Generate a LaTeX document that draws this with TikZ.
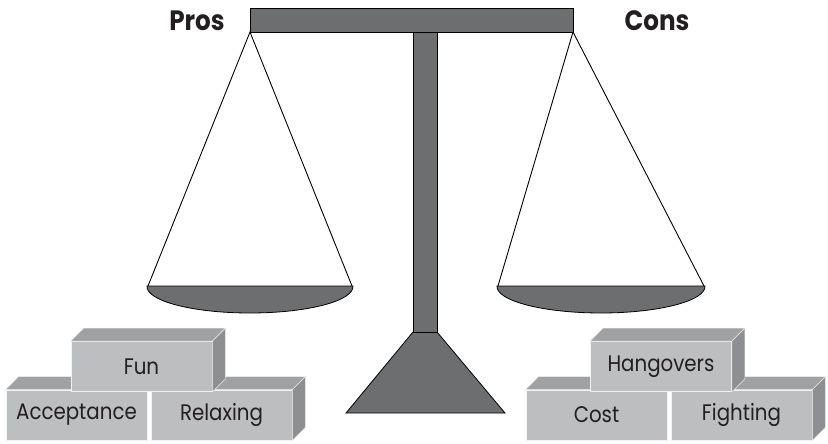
\documentclass[tikz,border=0pt]{standalone}
\usepackage{fontspec}
\setmainfont{Poppins}
\newfontfamily\blockfont{Poppins}[FakeStretch=0.88]
\newfontfamily\headfont{Poppins}[FakeStretch=0.88]
\definecolor{metal}{HTML}{6D6E70}
\definecolor{bfront}{HTML}{BDBEC0}
\definecolor{btop}{HTML}{A0A1A3}
\definecolor{bside}{HTML}{8E8F91}
\definecolor{ink}{HTML}{231F20}
\tikzset{
  metalpart/.style={fill=metal, draw=black, line width=0.8pt, line join=miter},
  rope/.style={draw=black, line width=0.9pt},
  blockfront/.style={fill=bfront, draw=white!80!bfront, line width=0.8pt, inner sep=0pt,
     minimum width=141pt, minimum height=50pt, text=ink, font=\blockfont\fontsize{22.5}{22.5}\selectfont},
  blocktop/.style={fill=btop, draw=white!80!btop, line width=0.5pt},
  blockside/.style={fill=bside, draw=white!80!bside, line width=0.5pt},
  headlabel/.style={text=ink, font=\headfont\bfseries\fontsize{28}{28}\selectfont, inner sep=0pt}
}
\newcommand{\blocktopface}[1]{%
  \path[blocktop] (#1.north west) -- ++(13,-13) -- ([shift={(13,-13)}]#1.north east) -- (#1.north east) -- cycle;}
\newcommand{\blocksideface}[1]{%
  \path[blockside] (#1.north east) -- ++(13,-13) -- ([shift={(13,-13)}]#1.south east) -- (#1.south east) -- cycle;}
\begin{document}
\begin{tikzpicture}[x=1pt, y=-1pt]
\useasboundingbox (0,0) rectangle (828,444);

% labels
\node[headlabel] (pros) at (197,21) {Pros};
\node[headlabel] (cons) at (657,21) {Cons};

% ropes
\coordinate (lapex) at (250,32);
\coordinate (rapex) at (573,32);
\coordinate (lpl) at (148,286);
\coordinate (lpr) at (352,286);
\coordinate (rpl) at (498,286);
\coordinate (rpr) at (704,286);
\draw[rope] (lpl) -- (lapex) -- (lpr);
\draw[rope] (rpl) -- (rapex) -- (rpr);

% pans
\path[metalpart] (147,286) -- (353,286) .. controls (354,301) and (307,313) .. (250,313)
   .. controls (193,313) and (146,301) .. cycle;
\path[metalpart] (497,286) -- (705,286) .. controls (706,301) and (658,313) .. (601,313)
   .. controls (544,313) and (496,301) .. cycle;

% stand
\path[metalpart] (413,332) -- (437,332) -- (505,413) -- (346,413) -- cycle;
\path[metalpart] (413,32) rectangle (437,332);
\path[metalpart] (250,8) rectangle (573,32);

% left blocks
\node[blockfront] (acc) at (76.5,415) {Acceptance};
\blocktopface{acc}
\node[blockfront] (rel) at (221.5,415) {Relaxing};
\blocktopface{rel}
\blocksideface{rel}
\node[blockfront] (fun) at (141.5,366.5) {Fun};
\blocktopface{fun}
\blocksideface{fun}

% right blocks
\node[blockfront] (cost) at (596.5,415) {Cost};
\blocktopface{cost}
\node[blockfront] (fight) at (741.5,415) {Fighting};
\blocktopface{fight}
\blocksideface{fight}
\node[blockfront] (hang) at (661,366.5) {Hangovers};
\blocktopface{hang}
\blocksideface{hang}
\end{tikzpicture}
\end{document}
